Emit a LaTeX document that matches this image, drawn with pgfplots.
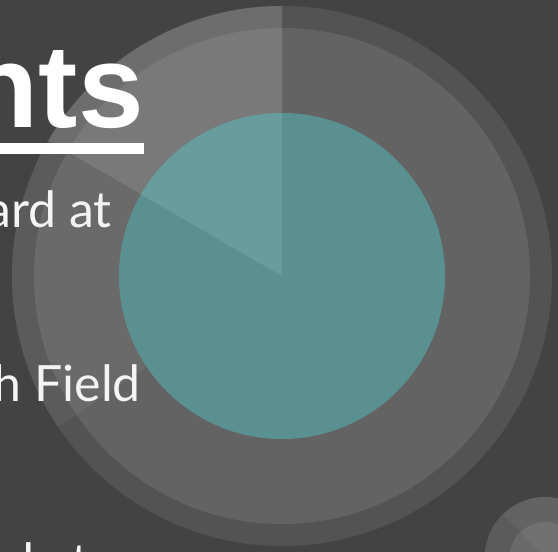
\documentclass[border=0pt]{standalone}
\usepackage{pgfplots}
\pgfplotsset{compat=1.18}
\usepackage{fontspec}
\setmainfont{Lato}
\newfontfamily\titlefont{Liberation Sans}
\definecolor{bg}{HTML}{434343}
\definecolor{outerband}{HTML}{535353}
\definecolor{innerring}{HTML}{636363}
\definecolor{tealbase}{HTML}{5A9190}
\definecolor{wedgeouter}{HTML}{6D6D6D}
\definecolor{wedgeinner}{HTML}{797979}
\definecolor{wedgeteal}{HTML}{699C9C}
\definecolor{midouter}{HTML}{5B5B5B}
\definecolor{midinner}{HTML}{6A6A6A}
\definecolor{smallinner}{HTML}{717171}
\definecolor{txt}{HTML}{F4F4F4}
\begin{document}
\begin{tikzpicture}
\begin{axis}[x=1pt,y=1pt,xmin=0,xmax=558,ymin=0,ymax=552,
  hide axis,scale only axis,clip=true]
% background
\addplot[draw=none,fill=bg] coordinates {(0,0) (558,0) (558,552) (0,552)} -- cycle;
% big graphic: discs (center 282,276)
\fill[outerband] (axis cs:282,276) circle[radius=270];
\fill[innerring] (axis cs:282,276) circle[radius=248];
% slice 1: 90 -> 150 deg
\fill[wedgeouter] (axis cs:282,276) -- +(90:270) arc[start angle=90,end angle=150,radius=270] -- cycle;
\fill[wedgeinner] (axis cs:282,276) -- +(90:248) arc[start angle=90,end angle=150,radius=248] -- cycle;
% slice 2: 150 -> 214 deg
\fill[midouter] (axis cs:282,276) -- +(150:270) arc[start angle=150,end angle=214,radius=270] -- cycle;
\fill[midinner] (axis cs:282,276) -- +(150:248) arc[start angle=150,end angle=214,radius=248] -- cycle;
% teal pie
\fill[tealbase] (axis cs:282,276) circle[radius=163];
\fill[wedgeteal] (axis cs:282,276) -- +(90:163) arc[start angle=90,end angle=150,radius=163] -- cycle;
% small graphic bottom right
\fill[innerring] (axis cs:545,-5) circle[radius=60];
\fill[midouter] (axis cs:545,-5) -- +(135:60) arc[start angle=135,end angle=270,radius=60] -- cycle;
\fill[smallinner] (axis cs:545,-5) circle[radius=35];
\fill[midinner] (axis cs:545,-5) -- +(135:35) arc[start angle=135,end angle=270,radius=35] -- cycle;
% title
\node[anchor=base east,inner sep=0pt,text=white,font=\titlefont\bfseries\fontsize{118}{120}\selectfont] at (axis cs:144,424) {nts};
\fill[white] (axis cs:0,398) rectangle (axis cs:144,409);
% body text
\node[anchor=base east,inner sep=0pt,text=txt,font=\fontsize{50}{54}\selectfont] at (axis cs:112,324) {Board at};
\node[anchor=base east,inner sep=0pt,text=txt,font=\fontsize{50}{54}\selectfont] at (axis cs:141,150) {Research Field};
\node[anchor=base east,inner sep=0pt,text=txt,font=\fontsize{50}{54}\selectfont] at (axis cs:90,-28) {used at};
\end{axis}
\pgfresetboundingbox
\useasboundingbox (0,0) rectangle (558pt,552pt);
\end{tikzpicture}
\end{document}
